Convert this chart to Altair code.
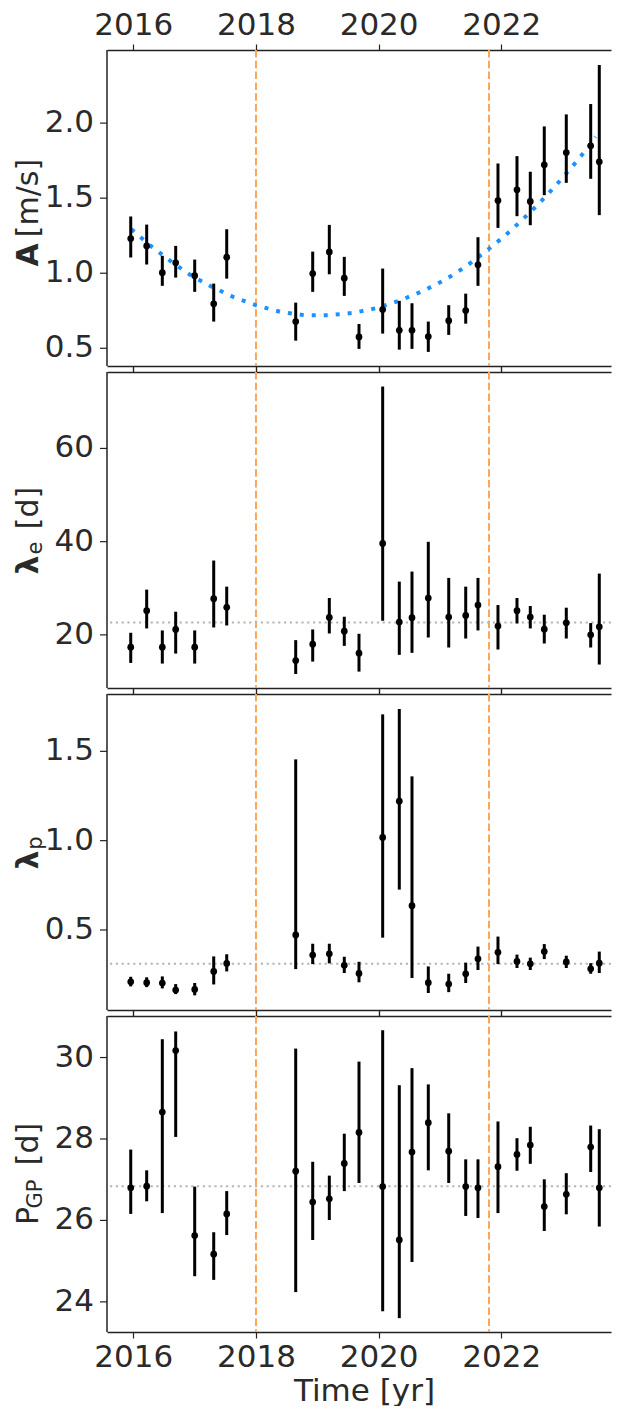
import altair as alt
import pandas as pd

# ---------------- data ----------------
years = [2015.958, 2016.218, 2016.473, 2016.691, 2017.001, 2017.311, 2017.523,
         2018.648, 2018.925, 2019.196, 2019.440, 2019.680, 2020.066, 2020.337,
         2020.544, 2020.810, 2021.143, 2021.420, 2021.620, 2021.946, 2022.256,
         2022.473, 2022.701, 2023.060, 2023.458, 2023.598]

amp = [1.231, 1.182, 1.004, 1.069, 0.984, 0.796, 1.107, 0.678, 0.998, 1.142, 0.967, 0.576, 0.758,
       0.620, 0.620, 0.578, 0.684, 0.751, 1.056, 1.484, 1.556, 1.478, 1.722, 1.804, 1.849, 1.742]
amp_hi = [1.378, 1.324, 1.116, 1.182, 1.091, 0.931, 1.293, 0.804, 1.144, 1.322, 1.109, 0.662, 1.031,
          0.816, 0.800, 0.678, 0.787, 0.864, 1.240, 1.731, 1.780, 1.676, 1.978, 2.058, 2.127, 2.387]
amp_lo = [1.105, 1.058, 0.916, 0.971, 0.876, 0.678, 0.964, 0.551, 0.876, 0.993, 0.849, 0.496, 0.598,
          0.491, 0.496, 0.476, 0.589, 0.664, 0.916, 1.302, 1.380, 1.320, 1.520, 1.602, 1.629, 1.387]

lam_e = [17.36, 25.18, 17.36, 21.16, 17.36, 27.77, 25.90, 14.49, 18.00, 23.75, 20.80, 16.07, 39.61,
         22.74, 23.68, 27.91, 23.82, 24.18, 26.40, 21.88, 25.18, 23.82, 21.23, 22.60, 20.01, 21.74]
lam_e_hi = [20.45, 29.71, 20.95, 24.97, 20.95, 35.95, 30.35, 18.87, 21.16, 27.91, 23.89, 20.23, 73.28,
            31.43, 33.58, 39.97, 32.22, 30.35, 32.22, 26.40, 27.91, 26.19, 24.32, 25.83, 22.53, 33.15]
lam_e_lo = [13.98, 21.38, 13.84, 15.99, 13.84, 21.59, 22.02, 11.61, 14.27, 20.30, 17.64, 12.12, 23.03,
            15.71, 16.14, 19.44, 17.29, 19.22, 20.95, 16.86, 22.45, 21.38, 18.15, 19.22, 17.29, 13.63]

lam_p = [0.210, 0.205, 0.203, 0.164, 0.167, 0.268, 0.313, 0.472, 0.360, 0.367, 0.302, 0.257, 1.018,
         1.221, 0.636, 0.205, 0.197, 0.255, 0.339, 0.375, 0.324, 0.311, 0.379, 0.321, 0.283, 0.314]
lam_p_hi = [0.238, 0.235, 0.240, 0.197, 0.203, 0.352, 0.364, 1.455, 0.423, 0.423, 0.350, 0.322, 1.707,
            1.737, 1.360, 0.296, 0.255, 0.317, 0.407, 0.463, 0.362, 0.345, 0.421, 0.356, 0.314, 0.379]
lam_p_lo = [0.184, 0.180, 0.173, 0.141, 0.134, 0.195, 0.268, 0.281, 0.309, 0.313, 0.259, 0.207, 0.457,
            0.726, 0.231, 0.147, 0.152, 0.203, 0.276, 0.309, 0.287, 0.276, 0.337, 0.287, 0.255, 0.259]

p_gp = [26.80, 26.84, 28.66, 30.17, 25.63, 25.17, 26.16, 27.21, 26.45, 26.53, 27.40, 28.16, 26.83,
        25.52, 27.68, 28.40, 27.70, 26.83, 26.80, 27.32, 27.62, 27.85, 26.34, 26.64, 27.80, 26.80]
p_gp_hi = [27.74, 27.23, 30.45, 30.64, 26.83, 25.71, 26.72, 30.22, 27.44, 27.10, 28.13, 29.90, 30.67,
           29.32, 29.74, 29.34, 28.63, 27.50, 27.50, 28.43, 28.02, 28.30, 27.01, 27.16, 28.33, 28.24]
p_gp_lo = [26.16, 26.47, 26.18, 28.05, 24.63, 24.54, 25.64, 24.24, 25.52, 26.01, 26.72, 26.92, 23.77,
           23.60, 24.98, 27.23, 26.92, 26.11, 26.06, 26.18, 27.22, 27.39, 25.74, 26.15, 27.19, 25.85]

# dotted trend curve in the top panel
curve_t = [2015.968, 2016.283, 2016.598, 2016.919, 2017.272, 2017.631, 2017.995, 2018.403,
           2018.794, 2019.191, 2019.588, 2019.979, 2020.359, 2020.713, 2021.082, 2021.419,
           2021.735, 2022.044, 2022.343, 2022.626, 2022.898, 2023.159, 2023.419, 2023.539]
curve_a = [1.293, 1.182, 1.084, 0.991, 0.911, 0.842, 0.787, 0.742,
           0.720, 0.720, 0.736, 0.769, 0.820, 0.880, 0.956, 1.044,
           1.142, 1.244, 1.356, 1.469, 1.589, 1.711, 1.840, 1.909]

# horizontal reference levels and vertical markers
ref_lam_e = [22.67]
ref_lam_p = [0.311]
ref_p_gp = [26.84]
vline_t = [2018.0, 2021.8]
x_ticks = [2016, 2018, 2020, 2022]

# y tick values and their labels
amp_ticks = [0.5, 1.0, 1.5, 2.0]
amp_tick_labels = ["0.5", "1.0", "1.5", "2.0"]
lam_e_ticks = [20, 40, 60]
lam_e_tick_labels = ["20", "40", "60"]
lam_p_ticks = [0.5, 1.0, 1.5]
lam_p_tick_labels = ["0.5", "1.0", "1.5"]
p_gp_ticks = [24, 26, 28, 30]
p_gp_tick_labels = ["24", "26", "28", "30"]

# ---------------- styling ----------------
X_DOMAIN = [2015.571, 2023.789]
W, H = 504, 316
FONT = "DejaVu Sans"
TXT = "#2a2a2a"
FRAME = "#222222"
ORANGE = "#FFA556"
BLUE = "#1E90FF"
GREY = "#b5b5b5"
FS = 31

xscale = alt.Scale(domain=X_DOMAIN, nice=False, zero=False)
vdf = pd.DataFrame({"t": vline_t})


def x_axis(orient, labels, title=None):
    kw = dict(orient=orient, values=x_ticks, format="d", labels=labels, title=title,
              tickSize=6, grid=False)
    if orient == "top":
        kw.update(labelBaseline="alphabetic", labelPadding=10)
    else:
        kw.update(labelPadding=4, titlePadding=4, titleX=257)
    return alt.Axis(**kw)


def title_marks(parts):
    layers = []
    for txt, x, y, fs, weight in parts:
        layers.append(
            alt.Chart(pd.DataFrame({"s": [txt]})).mark_text(
                angle=270, align="center", baseline="alphabetic", font=FONT,
                fontSize=fs, fontWeight=weight, color=TXT
            ).encode(text="s:N", x=alt.value(x), y=alt.value(y))
        )
    return layers


def y_axis_marks(ydom, ticks, tick_labels, ysc):
    tdf = pd.DataFrame({"v": ticks, "lab": tick_labels})
    ddf = pd.DataFrame({"a": [ydom[0]], "b": [ydom[1]]})
    domain = alt.Chart(ddf).mark_rule(color=FRAME, strokeWidth=1.5).encode(
        x=alt.value(0), y=alt.Y("a:Q", scale=ysc, axis=None), y2="b:Q")
    tks = alt.Chart(tdf).mark_rule(color=FRAME, strokeWidth=1.2).encode(
        x=alt.value(-7), x2=alt.value(0), y=alt.Y("v:Q", scale=ysc, axis=None))
    labs = alt.Chart(tdf).mark_text(align="right", baseline="middle", font=FONT,
                                    fontSize=FS, color=TXT).encode(
        x=alt.value(-13), y=alt.Y("v:Q", scale=ysc, axis=None), text="lab:N")
    return [domain, tks, labs]


def panel(vals, lo, hi, ydom, ticks, tick_labels, parts, ref=None, curve=None,
          top_labels=False, bottom_labels=False):
    df = pd.DataFrame({"t": years, "v": vals, "lo": lo, "hi": hi})
    ysc = alt.Scale(domain=ydom, nice=False, zero=False)
    layers = []
    # transparent layer that carries the top axis
    layers.append(
        alt.Chart(df).mark_circle(size=1, opacity=0).encode(
            x=alt.X("t:Q", scale=xscale, axis=x_axis("top", top_labels)),
            y=alt.Y("v:Q", scale=ysc, axis=None),
        )
    )
    layers.append(
        alt.Chart(vdf).mark_rule(color=ORANGE, strokeWidth=2, strokeDash=[7.5, 3.3]).encode(
            x=alt.X("t:Q", scale=xscale,
                    axis=x_axis("bottom", bottom_labels, "Time [yr]" if bottom_labels else None))
        )
    )
    if ref is not None:
        layers.append(
            alt.Chart(pd.DataFrame({"r": ref})).mark_rule(
                color=GREY, strokeWidth=2, strokeDash=[2.2, 3.6]
            ).encode(y=alt.Y("r:Q", scale=ysc, axis=None))
        )
    if curve is not None:
        layers.append(
            alt.Chart(pd.DataFrame({"t": curve[0], "a": curve[1]})).mark_line(
                color=BLUE, strokeWidth=4, strokeDash=[4, 8]
            ).encode(x=alt.X("t:Q", scale=xscale, axis=None),
                     y=alt.Y("a:Q", scale=ysc, axis=None))
        )
    layers.append(
        alt.Chart(df).mark_rule(color="black", strokeWidth=3).encode(
            x=alt.X("t:Q", scale=xscale, axis=None),
            y=alt.Y("lo:Q", scale=ysc, axis=None),
            y2="hi:Q",
        )
    )
    layers.append(
        alt.Chart(df).mark_circle(size=45, color="black", opacity=1).encode(
            x=alt.X("t:Q", scale=xscale, axis=None),
            y=alt.Y("v:Q", scale=ysc, axis=None),
        )
    )
    layers += y_axis_marks(ydom, ticks, tick_labels, ysc)
    layers += title_marks(parts)
    return alt.layer(*layers).properties(width=W, height=H)


TX = -69.5
SX = -65
p1 = panel(amp, amp_lo, amp_hi, [0.382, 2.487], amp_ticks, amp_tick_labels,
           [("A", TX, 205, 30, "bold"), ("[m/s]", TX, 148, 30, "normal")],
           curve=(curve_t, curve_a), top_labels=True)
p2 = panel(lam_e, lam_e_lo, lam_e_hi, [8.6, 76.4], lam_e_ticks, lam_e_tick_labels,
           [("λ", TX, 193, 30, "bold"), ("e", SX, 176, 21, "normal"), ("[d]", TX, 136, 30, "normal")],
           ref=ref_lam_e)
p3 = panel(lam_p, lam_p_lo, lam_p_hi, [0.052, 1.821], lam_p_ticks, lam_p_tick_labels,
           [("λ", TX, 166, 30, "bold"), ("p", SX, 149, 21, "normal")],
           ref=ref_lam_p)
p4 = panel(p_gp, p_gp_lo, p_gp_hi, [23.26, 31.02], p_gp_ticks, p_gp_tick_labels,
           [("P", TX, 200, 30, "normal"), ("GP", SX, 178, 21, "normal"), ("[d]", TX, 128, 30, "normal")],
           ref=ref_p_gp, bottom_labels=True)

chart = alt.vconcat(p1, p2, p3, p4, spacing=6, bounds="flush").properties(
    padding={"left": 5, "top": 1, "right": 0, "bottom": 0}
).configure_view(stroke=None).configure_axis(
    domainColor=FRAME, domainWidth=1.5, tickColor=FRAME, tickWidth=1.2,
    labelFont=FONT, labelFontSize=FS, labelColor=TXT,
    titleFont=FONT, titleFontSize=FS, titleColor=TXT, titleFontWeight="normal",
)

chart.save("out.html", embed_options={"renderer": "svg", "actions": False})
